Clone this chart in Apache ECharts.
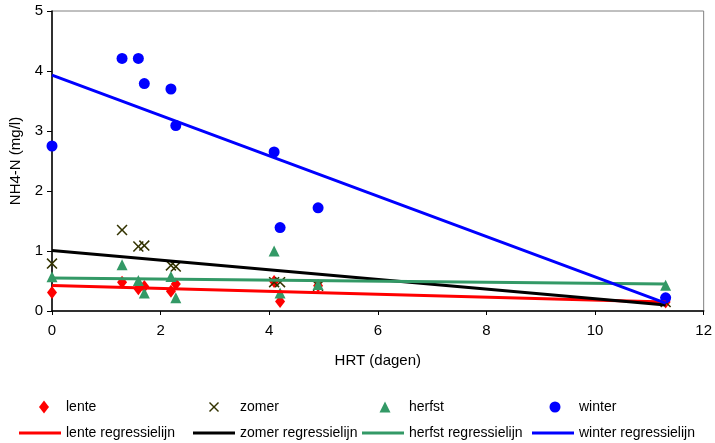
<!DOCTYPE html>
<html>
<head>
<meta charset="utf-8">
<script src="https://cdn.jsdelivr.net/npm/echarts@6/dist/echarts.min.js"></script>
<style>html,body{margin:0;padding:0;background:#fff}#c{width:715px;height:443px}</style>
</head>
<body>
<div id="c"></div>
<script>
// ---- data ----
const hrt    = [0, 1.29, 1.59, 1.70, 2.19, 2.28, 4.09, 4.20, 4.90, 11.3];
const lente  = [0.31, 0.48, 0.37, 0.41, 0.33, 0.45, 0.49, 0.16, 0.42, 0.15];
const zomer  = [0.79, 1.35, 1.075, 1.09, 0.76, 0.74, 0.48, 0.48, 0.42, 0.15];
const herfst = [0.57, 0.77, 0.51, 0.30, 0.575, 0.22, 1.00, 0.30, 0.44, 0.43];
const winter = [2.75, 4.21, 4.21, 3.79, 3.70, 3.09, 2.65, 1.39, 1.72, 0.22];

const regX       = [0, 11.3];
const lenteReg   = [0.425, 0.15];
const zomerReg   = [1.01, 0.10];
const herfstReg  = [0.55, 0.45];
const winterReg  = [3.93, 0.13];

const xTicks = [0, 2, 4, 6, 8, 10, 12];
const yTicks = [0, 1, 2, 3, 4, 5];

const scatterNames = ['lente', 'zomer', 'herfst', 'winter'];
const lineNames = ['lente regressielijn', 'zomer regressielijn', 'herfst regressielijn', 'winter regressielijn'];

// ---- build ----
const pairs = (xs, ys) => xs.map((x, i) => [x, ys[i]]);
const FONT = 'Liberation Sans';
const xMark = 'path://M0,1 L1,0 L5,4 L9,0 L10,1 L6,5 L10,9 L9,10 L5,6 L1,10 L0,9 L4,5 Z';

const colors = {lente: '#FF0000', zomer: '#333300', herfst: '#339966', winter: '#0000FF'};
const lineColors = ['#FF0000', '#000000', '#339966', '#0000FF'];

const scatterDefs = [
  {name: 'lente', data: lente, symbol: 'diamond', size: [10, 13], leg: [10, 13]},
  {name: 'zomer', data: zomer, symbol: xMark, size: [11, 11], leg: [10, 10]},
  {name: 'herfst', data: herfst, symbol: 'triangle', size: [11, 11], leg: [11, 11]},
  {name: 'winter', data: winter, symbol: 'circle', size: 11, leg: [11, 11]}
];
const regs = [lenteReg, zomerReg, herfstReg, winterReg];

const series = [];
scatterDefs.forEach(d => {
  series.push({
    type: 'scatter', name: d.name, data: pairs(hrt, d.data),
    symbol: d.symbol, symbolSize: d.size,
    itemStyle: {color: colors[d.name], opacity: 1},
    z: 3
  });
});
regs.forEach((r, i) => {
  series.push({
    type: 'line', name: lineNames[i], data: pairs(regX, r),
    symbol: 'none', showSymbol: false,
    lineStyle: {color: lineColors[i], width: 3},
    itemStyle: {color: lineColors[i]},
    z: 4
  });
});

const colLeft = [19, 193, 362, 532];
const symCenter = [44, 214, 385, 555];
const FS = 14;
const legends = [];
scatterDefs.forEach((d, i) => {
  const w = d.leg[0], h = d.leg[1];
  const textStart = colLeft[i] + 47;
  legends.push({
    data: [d.name], left: symCenter[i] - w / 2, top: 400, padding: 0,
    itemWidth: w, itemHeight: h, itemGap: 0,
    textStyle: {fontFamily: FONT, fontSize: FS, color: '#000', padding: [0, 0, 0, Math.max(0, textStart - (symCenter[i] + w / 2 + 5))]},
    selectedMode: false
  });
});
lineNames.forEach((n, i) => {
  legends.push({
    data: [{name: n, icon: 'rect'}], left: colLeft[i], top: 426, padding: 0,
    itemWidth: 42, itemHeight: 3, itemGap: 0,
    textStyle: {fontFamily: FONT, fontSize: FS, color: '#000'},
    selectedMode: false
  });
});

const option = {
  animation: false,
  backgroundColor: '#fff',
  grid: {left: 52, right: 9, top: 11, bottom: 132, show: true, borderColor: '#808080', borderWidth: 1, backgroundColor: 'transparent'},
  xAxis: {
    type: 'value', min: xTicks[0], max: xTicks[xTicks.length - 1], interval: 2,
    name: 'HRT (dagen)', nameLocation: 'middle', nameGap: 42,
    nameTextStyle: {fontFamily: FONT, fontSize: 15, color: '#000'},
    axisLine: {show: true, onZero: false, lineStyle: {color: '#000', width: 1.5}},
    axisTick: {show: true, inside: false, length: 4, lineStyle: {color: '#000'}},
    axisLabel: {fontFamily: FONT, fontSize: 15, color: '#000', margin: 12},
    splitLine: {show: false}
  },
  yAxis: {
    type: 'value', min: yTicks[0], max: yTicks[yTicks.length - 1], interval: 1,
    name: 'NH4-N (mg/l)', nameLocation: 'middle', nameGap: 24,
    nameTextStyle: {fontFamily: FONT, fontSize: 15, color: '#000'},
    axisLine: {show: true, onZero: false, lineStyle: {color: '#000', width: 1.5}},
    axisTick: {show: true, inside: false, length: 5, lineStyle: {color: '#000'}},
    axisLabel: {fontFamily: FONT, fontSize: 15, color: '#000', margin: 9},
    splitLine: {show: false}
  },
  legend: legends,
  series: series
};

const chart = echarts.init(document.getElementById('c'), null, {renderer: 'canvas'});
chart.setOption(option);
</script>
</body>
</html>
